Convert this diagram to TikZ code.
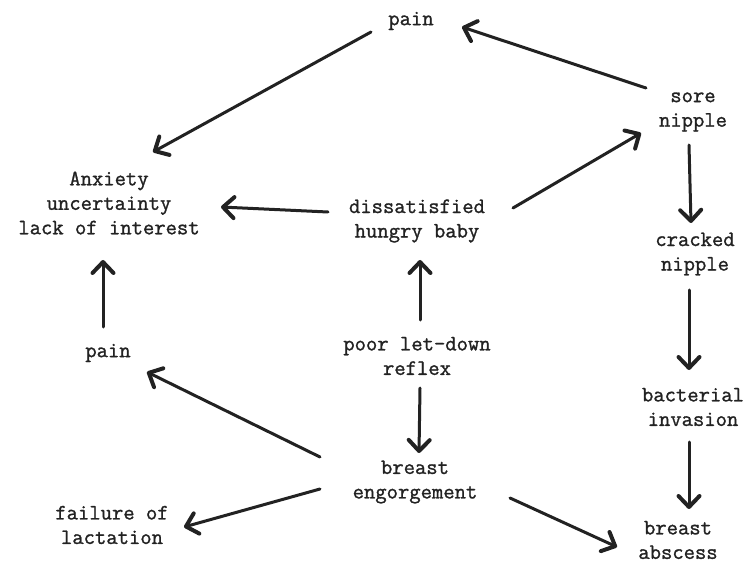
\documentclass[tikz,border=0pt]{standalone}
\usepackage{fontspec}
\newfontfamily\typewr[FakeBold=1.2]{Latin Modern Mono}
\usetikzlibrary{arrows.meta,calc}
\definecolor{ink}{HTML}{222222}
\begin{document}
\begin{tikzpicture}[x=1pt,y=-1pt,
  lbl/.style={font=\typewr\fontsize{22}{24.5}\selectfont, align=center, inner sep=0pt, text=ink},
  arr/.style={draw=ink, line width=3pt, line cap=round, -{Straight Barb[length=11pt,width=21pt,line width=4pt,line cap=round,line join=round]}}]
\useasboundingbox (0,0) rectangle (750,564);
\node[lbl] (painT) at (411,21) {pain};
\node[lbl] (sore) at (693,112) {sore\\nipple};
\node[lbl] (anx) at (109,203) {Anxiety\\uncertainty\\lack of interest};
\node[lbl] (dissat) at (417,221) {dissatisfied\\hungry baby};
\node[lbl] (cracked) at (695,254) {cracked\\nipple};
\node[lbl] (painL) at (108,353) {pain};
\node[lbl] (poor) at (417,356) {poor let-down\\reflex};
\node[lbl] (bact) at (693,407) {bacterial\\invasion};
\node[lbl] (engorge) at (415,482) {breast\\engorgement};
\node[lbl] (failure) at (112,525) {failure of\\lactation};
\node[lbl] (abscess) at (678,540) {breast\\abscess};

\draw[arr] ($(painT)+(-40,11)$) -- ($(anx)+(44,-51)$);
\draw[arr] ($(sore)+(-47,-24)$) -- ($(painT)+(51,6)$);
\draw[arr] ($(dissat)+(-89,-9)$) -- ($(anx)+(112,4)$);
\draw[arr] ($(dissat)+(96,-13)$) -- ($(sore)+(-52,21)$);
\draw[arr] ($(sore)+(-4,33)$) -- ($(cracked)+(-4,-31)$);
\draw[arr] ($(painL)+(-5,-26)$) -- ($(anx)+(-6,57)$);
\draw[arr] ($(poor)+(3,-36)$) -- ($(dissat)+(3,39)$);
\draw[arr] ($(poor)+(3,32)$) -- ($(engorge)+(4,-29)$);
\draw[arr] ($(engorge)+(-95,-25)$) -- ($(painL)+(39,19)$);
\draw[arr] ($(engorge)+(-95,7)$) -- ($(failure)+(72,2)$);
\draw[arr] ($(engorge)+(95,16)$) -- ($(abscess)+(-61,7)$);
\draw[arr] ($(cracked)+(-6,36)$) -- ($(bact)+(-4,-37)$);
\draw[arr] ($(bact)+(-4,35)$) -- ($(abscess)+(11,-31)$);
\end{tikzpicture}
\end{document}
